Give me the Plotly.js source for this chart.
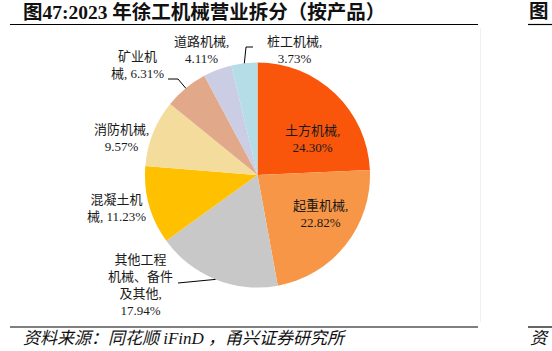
<!DOCTYPE html>
<html>
<head>
<meta charset="utf-8">
<script src="https://cdn.plot.ly/plotly-3.0.1.min.js"></script>
<style>
html,body{margin:0;padding:0;background:#fff;}
#chart{width:552px;height:351px;}
</style>
</head>
<body>
<div id="chart"></div>
<script>
// ---- data ----
const categories = ['土方机械', '起重机械', '其他工程机械、备件及其他', '混凝土机械', '消防机械', '矿业机械', '道路机械', '桩工机械'];
const shares = [24.30, 22.82, 17.94, 11.23, 9.57, 6.31, 4.11, 3.73];
const labelTemplates = [
  '土方机械,<br>{v}',
  '起重机械,<br>{v}',
  '其他工程<br>机械、备件<br>及其他,<br>{v}',
  '混凝土机<br>械, {v}',
  '消防机械,<br>{v}',
  '矿业机<br>械, {v}',
  '道路机械,<br>{v}',
  '桩工机械,<br>{v}'
];
const titleText = '图47:2023 年徐工机械营业拆分（按产品）';
const sourceText = '资料来源：同花顺 iFinD ，甬兴证券研究所';

// ---- styles / layout ----
const W = 552, H = 351;
const colors = ['#F9560B', '#F79646', '#C8C8C8', '#FFC000', '#F4DC9C', '#E1A98A', '#CACDE3', '#B5DDE8'];
const cx = 257.5, cy = 175, R = 112.5;
// label centre positions (pixels)
const labelPos = [[312,138.5],[320,214],[140,284.5],[116,207.5],[121,137.5],[137,65],[201,50],[294,50]];
// leader line elbows (pixels) for labels that have one
const leaders = {7: [[246,47],[253,47]], 5: [[178,79],[168,79]], 2: [[178,283]]};

const px = x => x / W;
const py = y => 1 - y / H;
const serif = 'Liberation Serif, Times New Roman, Noto Sans CJK SC, serif';

const total = shares.reduce((a,b)=>a+b,0);
let cum = 0;
const midAngles = shares.map(v => { const m = (cum + v/2)/total*2*Math.PI; cum += v; return m; });

const annotations = shares.map((v,i) => ({
  xref:'paper', yref:'paper', x: px(labelPos[i][0]), y: py(labelPos[i][1]),
  xanchor:'center', yanchor:'middle', showarrow:false, align:'center',
  text: labelTemplates[i].replace('{v}', v.toFixed(2) + '%'),
  font:{family: serif, size:13, color:'#1a1a1a'}
}));
annotations.push({xref:'paper', yref:'paper', x: px(21), y: py(12), xanchor:'left', yanchor:'middle', showarrow:false,
  text:'<b>'+titleText+'</b>', font:{family:'Liberation Serif, Noto Sans CJK SC, serif', size:19.5, color:'#111'}});
annotations.push({xref:'paper', yref:'paper', x: px(21), y: py(338), xanchor:'left', yanchor:'middle', showarrow:false,
  text:'<i>'+sourceText+'</i>', font:{family:'Liberation Serif, Noto Sans CJK SC, serif', size:17, color:'#111'}});
annotations.push({xref:'paper', yref:'paper', x: px(551), y: py(12), xanchor:'right', yanchor:'middle', showarrow:false,
  text:'<b>图</b>', font:{family:'Liberation Serif, Noto Sans CJK SC, serif', size:19.5, color:'#111'}});
annotations.push({xref:'paper', yref:'paper', x: px(551), y: py(338), xanchor:'right', yanchor:'middle', showarrow:false,
  text:'<i>资</i>', font:{family:'Liberation Serif, Noto Sans CJK SC, serif', size:17, color:'#111'}});

const shapes = [];
const line = (x0,y0,x1,y1,c,w) => shapes.push({type:'line', xref:'paper', yref:'paper', x0:px(x0), y0:py(y0), x1:px(x1), y1:py(y1), line:{color:c||'#000', width:w||1}});
line(10,24.5,478,24.5,'#000',1.2);
line(528,24.5,552,24.5,'#000',1.2);
line(10,327,478,327,'#000',1.2);
line(528,327,552,327,'#000',1.2);
line(480.5,28,480.5,322,'#f0f0f0',1);

Object.keys(leaders).forEach(k => {
  const i = +k, a = midAngles[i];
  const pts = [[cx + R*Math.sin(a), cy - R*Math.cos(a)]].concat(leaders[k]);
  const path = pts.map((p,j) => (j? 'L':'M') + px(p[0]) + ',' + py(p[1])).join(' ');
  shapes.push({type:'path', xref:'paper', yref:'paper', path, line:{color:'#000', width:1}});
});

const trace = {
  type:'pie', values: shares, labels: categories, sort:false, direction:'clockwise', rotation:0,
  marker:{colors: colors, line:{width:0}}, textinfo:'none', hoverinfo:'none', showlegend:false,
  domain:{x:[px(cx-R), px(cx+R)], y:[py(cy+R), py(cy-R)]}
};

Plotly.newPlot('chart', [trace], {
  width:W, height:H, margin:{l:0,r:0,t:0,b:0}, paper_bgcolor:'#fff', plot_bgcolor:'#fff',
  showlegend:false, annotations, shapes
}, {staticPlot:true, displayModeBar:false});
</script>
</body>
</html>
